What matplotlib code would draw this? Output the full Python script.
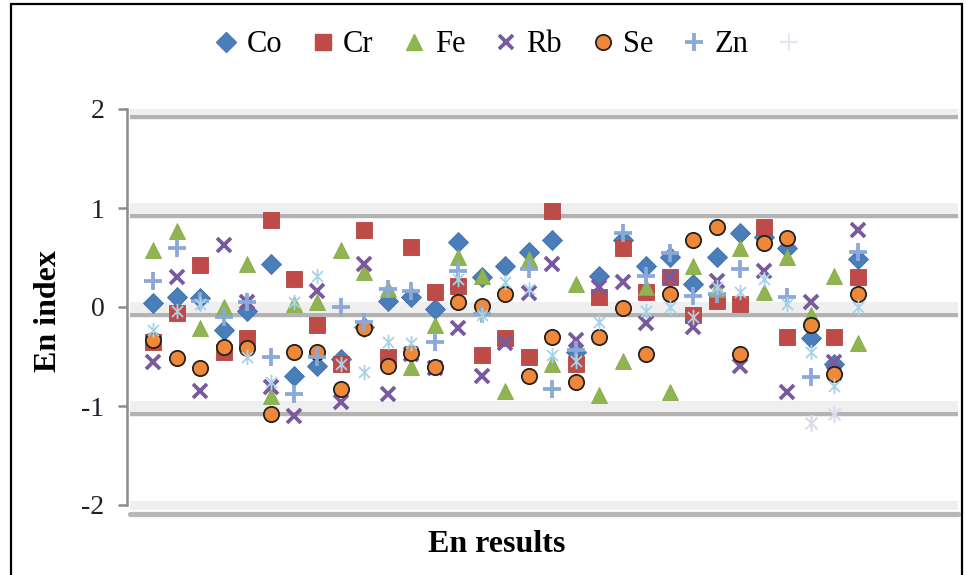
import numpy as np
import matplotlib
matplotlib.use("Agg")
import matplotlib.pyplot as plt
from matplotlib.path import Path
from matplotlib.lines import Line2D
from matplotlib.patches import Rectangle

nan = np.nan
# ---- data (one value per result column, 31 columns) ----
results = list(range(1, 32))
Co = [0.04, 0.10, 0.09, -0.23, -0.04, 0.43, -0.70, -0.60, -0.53, -0.20, 0.06, 0.10, -0.02, 0.66, 0.30, 0.41,
      0.56, 0.68, -0.45, 0.31, 0.68, 0.41, 0.51, 0.23, 0.51, 0.75, 0.71, 0.60, -0.31, -0.58, 0.48]
Cr = [-0.35, -0.06, 0.42, -0.45, -0.31, 0.88, 0.28, -0.18, -0.58, 0.78, -0.50, 0.61, 0.15, 0.21, -0.48, -0.31,
      -0.51, 0.97, -0.58, 0.10, 0.60, 0.15, 0.30, -0.08, 0.06, 0.03, 0.81, -0.30, nan, -0.30, 0.30]
Fe = [0.58, 0.77, -0.21, 0.00, 0.43, -0.90, 0.03, 0.05, 0.58, 0.35, 0.18, -0.61, -0.18, 0.51, 0.31, -0.85,
      0.48, -0.58, 0.23, -0.89, -0.55, 0.20, -0.86, 0.41, 0.18, 0.60, 0.15, 0.51, -0.08, 0.31, -0.36]
Rb = [-0.56, 0.30, -0.85, 0.63, 0.05, -0.81, -1.10, 0.16, -0.96, 0.43, -0.88, -0.47, -0.62, -0.21, -0.70, -0.36,
      0.14, 0.43, -0.33, 0.20, 0.25, -0.16, 0.30, -0.20, 0.26, -0.60, 0.36, -0.86, 0.05, -0.56, 0.78]
Se = [-0.33, -0.52, -0.62, -0.40, -0.41, -1.08, -0.45, -0.45, -0.83, -0.21, -0.60, -0.46, -0.61, 0.05, 0.01, 0.13,
      -0.70, -0.30, -0.76, -0.30, -0.01, -0.47, 0.13, 0.68, 0.81, -0.47, 0.65, 0.70, -0.18, -0.68, 0.13]
Zn = [0.26, 0.60, 0.06, -0.10, 0.05, -0.51, -0.88, -0.50, 0.00, -0.15, 0.18, 0.16, -0.35, 0.36, -0.07, nan,
      0.38, -0.83, -0.43, nan, 0.75, 0.31, 0.55, 0.11, 0.13, 0.38, nan, 0.10, -0.71, nan, 0.56]
Other = [-0.23, -0.04, 0.03, nan, -0.51, -0.76, 0.05, 0.31, -0.58, -0.66, -0.35, -0.36, nan, 0.28, -0.08, 0.25,
         0.18, -0.48, -0.55, -0.15, nan, -0.04, 0.00, -0.10, 0.20, 0.15, 0.28, 0.03, -0.45, -0.80, 0.00]
faded_cols = [29, 30]
faded_vals = [-1.17, -1.08]

series_names = ["Co", "Cr", "Fe", "Rb", "Se", "Zn", ""]
y_ticks = [-2, -1, 0, 1, 2]

# ---- figure ----
W, H = 966, 575
fig = plt.figure(figsize=(W / 100, H / 100), dpi=100)
fig.patch.set_facecolor("white")

def fx(px):
    return px / W

def fy(py):
    return 1 - py / H

ax_l, ax_r, ax_t, ax_b = 130, 958, 109, 505
ax = fig.add_axes([fx(ax_l), fy(ax_b), fx(ax_r - ax_l), (ax_b - ax_t) / H])
ax.set_xlim(0.02, 35.26)
ax.set_ylim(-2, 2)
ax.patch.set_alpha(0)
for s in ["top", "right", "bottom"]:
    ax.spines[s].set_visible(False)
ax.spines["left"].set_color("#8c8c8c")
ax.spines["left"].set_linewidth(1.8)
ax.spines["left"].set_position(("outward", 2))
ax.set_xticks([])
ax.set_yticks(y_ticks)
ax.set_yticklabels([str(t) for t in y_ticks], family="Liberation Serif", fontsize=20, color="#1e1e2a")
ax.tick_params(axis="y", direction="out", length=6.5, width=1.8, color="#8c8c8c", pad=10)

# 3D-like gridlines (light band + darker shadow line)
for v in [2, 1, 0, -1]:
    ax.axhspan(v - 0.05, v + 0.05, color="#efefef", zorder=0, lw=0)
    ax.axhline(v - 0.085, color="#b3b3b3", lw=3.2, zorder=0.5, solid_capstyle="round")
# floor
ax.axhspan(-2.05, -2.0 + 0.04, color="#efefef", zorder=0, lw=0, clip_on=False)
ax.axhline(-2.09, color="#b8b8b8", lw=3.8, zorder=0.5, clip_on=False, solid_capstyle="round")

x = np.array(results)
ax.plot(x, Co, ls="none", marker="D", ms=10, color="#4a7ebb", mec="#3f6fa8", mew=0.6, label="Co", zorder=3)
ax.plot(x, Cr, ls="none", marker="s", ms=11, color="#be4b48", mec="#b04441", mew=0.6, label="Cr", zorder=3)
ax.plot(x, Fe, ls="none", marker="^", ms=12, color="#8fb450", mec="#86aa4a", mew=0.6, label="Fe", zorder=3)
ax.plot(x, Rb, ls="none", marker="x", ms=10.5, color="#7a5a9e", mew=2.7, label="Rb", zorder=3)
ax.plot(x, Se, ls="none", marker="o", ms=11, color="#f0883a", mec="#222222", mew=1.3, label="Se", zorder=3)
ax.plot(x, Zn, ls="none", marker="+", ms=12.5, color="#8aa8d8", mew=2.7, label="Zn", zorder=3)

ast = Path([(0, -1), (0, 1), (-0.72, -0.72), (0.72, 0.72), (-0.72, 0.72), (0.72, -0.72)],
           [Path.MOVETO, Path.LINETO, Path.MOVETO, Path.LINETO, Path.MOVETO, Path.LINETO])
ax.plot(x, Other, ls="none", marker=ast, ms=11, color="#a8d2e6", mew=1.3, zorder=3.5)
ax.plot(faded_cols, faded_vals, ls="none", marker=ast, ms=12, color="#dcdcec", mew=1.6, zorder=3.5)

# legend
handles = [
    Line2D([], [], ls="none", marker="D", ms=10, color="#4a7ebb"),
    Line2D([], [], ls="none", marker="s", ms=11, color="#be4b48"),
    Line2D([], [], ls="none", marker="^", ms=12, color="#8fb450"),
    Line2D([], [], ls="none", marker="x", ms=10.5, color="#7a5a9e", mew=2.7),
    Line2D([], [], ls="none", marker="o", ms=11, color="#f0883a", mec="#222222", mew=1.3),
    Line2D([], [], ls="none", marker="+", ms=12.5, color="#8aa8d8", mew=2.7),
    Line2D([], [], ls="none", marker="+", ms=12.5, color="#e4e8f0", mew=1.6),
]
leg = fig.legend(handles, series_names, loc="center", bbox_to_anchor=(fx(512), fy(45)), ncol=7,
                 frameon=False, handlelength=0.75, handletextpad=0.3, columnspacing=0.95,
                 prop={"family": "Liberation Serif", "size": 22})

# axis titles
fig.text(fx(49), fy(311), "En index", rotation=90, ha="center", va="center",
         family="Liberation Serif", fontweight="bold", fontsize=23)
fig.text(fx(497), fy(545), "En results", ha="center", va="center",
         family="Liberation Serif", fontweight="bold", fontsize=23)

# outer chart frame
fig.patches.append(Rectangle((fx(11), fy(H + 20)), fx(962 - 11), (H + 20 - 4) / H,
                             transform=fig.transFigure, fill=False, ec="black", lw=1.6))

fig.savefig("out.png", dpi=100)
